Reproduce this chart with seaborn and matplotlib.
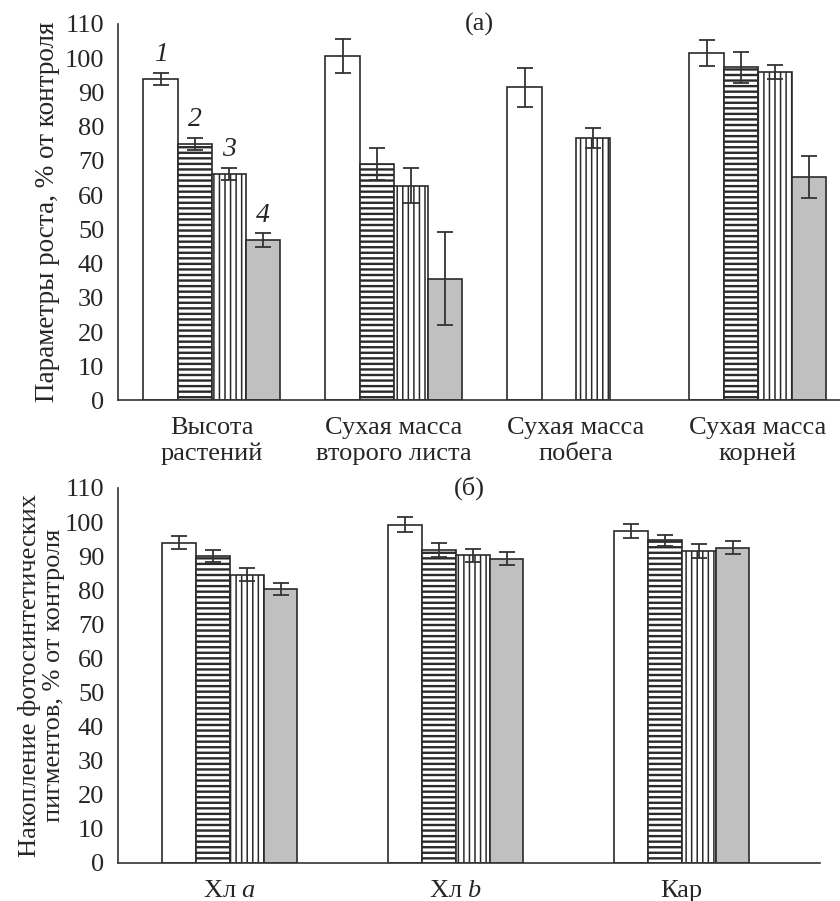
import numpy as np
import pandas as pd
import matplotlib
matplotlib.use("Agg")
import matplotlib.pyplot as plt
import seaborn as sns

# ---------------- data ----------------
groups = ["1", "2", "3", "4"]

categories_a = ["Высота\nрастений", "Сухая масса\nвторого листа",
                "Сухая масса\nпобега", "Сухая масса\nкорней"]
a_g1 = [94.0, 100.6, 91.5, 101.5]
a_g2 = [75.0, 69.1, np.nan, 97.3]
a_g3 = [66.2, 62.8, 76.8, 96.0]
a_g4 = [46.9, 35.6, np.nan, 65.3]
a_e1 = [1.8, 4.9, 5.7, 3.7]
a_e2 = [1.8, 4.7, np.nan, 4.6]
a_e3 = [1.8, 5.0, 2.9, 2.1]
a_e4 = [2.0, 13.5, np.nan, 6.0]

categories_b = ["Хл $a$", "Хл $b$", "Кар"]
b_g1 = [94.0, 99.2, 97.4]
b_g2 = [90.1, 91.9, 94.6]
b_g3 = [84.6, 90.2, 91.5]
b_g4 = [80.3, 89.2, 92.5]
b_e1 = [1.9, 2.2, 2.0]
b_e2 = [1.7, 2.0, 1.5]
b_e3 = [1.8, 1.9, 2.0]
b_e4 = [1.7, 1.9, 2.0]

yticks = list(range(0, 111, 10))
ylabel_a = "Параметры роста, % от контроля"
ylabel_b = "Накопление фотосинтетических\nпигментов, % от контроля"


def long_frame(cats, vals, errs):
    rows = []
    for g, v, e in zip(groups, vals, errs):
        for c, vv, ee in zip(cats, v, e):
            rows.append({"param": c, "group": g, "value": vv, "err": ee})
    return pd.DataFrame(rows).dropna()


df_a = long_frame(categories_a, [a_g1, a_g2, a_g3, a_g4], [a_e1, a_e2, a_e3, a_e4])
df_b = long_frame(categories_b, [b_g1, b_g2, b_g3, b_g4], [b_e1, b_e2, b_e3, b_e4])

# ---------------- style ----------------
FS = 19
sns.set_style("white")
plt.rcParams["font.family"] = ["Liberation Serif", "DejaVu Serif"]
plt.rcParams["font.size"] = FS
plt.rcParams["mathtext.fontset"] = "custom"
plt.rcParams["mathtext.rm"] = "Liberation Serif"
plt.rcParams["mathtext.it"] = "Liberation Serif:italic"
plt.rcParams["hatch.color"] = "black"
plt.rcParams["hatch.linewidth"] = 1.4

EDGE = "#2a2a2a"
palette = {"1": "white", "2": "white", "3": "white", "4": "#c0c0c0"}
hatches = {"1": "", "2": "---", "3": "|||", "4": ""}
hatch_lw = {"1": 1.0, "2": 1.7, "3": 1.1, "4": 1.0}

fig = plt.figure(figsize=(8.4, 9.01), dpi=100)
ax1 = fig.add_axes([0.1405, 0.5555, 0.8595, 0.4179])
ax2 = fig.add_axes([0.1405, 0.0422, 0.8357, 0.4162])


def draw(ax, df, cats, width, xlim, numbers=False):
    sns.barplot(data=df, x="param", y="value", hue="group", order=cats,
                hue_order=groups, palette=palette, width=width, errorbar=None,
                saturation=1, edgecolor=EDGE, linewidth=1.2, legend=False, ax=ax)
    bar_containers = list(ax.containers)
    for gi, cont in enumerate(bar_containers):
        g = groups[gi]
        sub = df[df["group"] == g]
        for bar in cont:
            xc = bar.get_x() + bar.get_width() / 2
            ci = int(round(xc))
            row = sub[sub["param"] == cats[ci]]
            if row.empty:
                continue
            bar.set_hatch(hatches[g])
            if hasattr(bar, "set_hatch_linewidth"):
                bar.set_hatch_linewidth(hatch_lw[g])
            val = float(row["value"].iloc[0])
            err = float(row["err"].iloc[0])
            ax.errorbar(xc, val, yerr=err, fmt="none", ecolor="#333333",
                        elinewidth=1.3, capsize=5.5, capthick=1.3, zorder=5)
            if numbers and ci == 0:
                ax.annotate(g, (xc, val + err), xytext=(0, 13),
                            textcoords="offset points", ha="center", va="center",
                            fontstyle="italic", fontsize=FS + 1)
    ax.set_xlim(*xlim)
    ax.set_ylim(0, 110)
    ax.set_yticks(yticks)
    ax.set_xlabel("")
    for s in ["top", "right"]:
        ax.spines[s].set_visible(False)
    for s in ["left", "bottom"]:
        ax.spines[s].set_color("#333333")
        ax.spines[s].set_linewidth(1.2)
    ax.tick_params(axis="y", direction="in", length=6.5, width=1.2,
                   color="#333333", pad=10, labelsize=FS)
    ax.tick_params(axis="x", length=0, pad=12, labelsize=FS)


draw(ax1, df_a, categories_a, 0.75, (-0.515, 3.452), numbers=True)
draw(ax2, df_b, categories_b, 0.60, (-0.494, 2.612))

ax1.set_ylabel(ylabel_a, fontsize=FS + 0.5, labelpad=3)
ax2.set_ylabel(ylabel_b, fontsize=FS, labelpad=0, linespacing=1.1)

ax1.text(0.5, 1.0, "(а)", transform=ax1.transAxes, ha="center", va="center", fontsize=FS)
ax2.text(0.5, 1.0, "(б)", transform=ax2.transAxes, ha="center", va="center", fontsize=FS)

fig.savefig("out.png", dpi=100)
